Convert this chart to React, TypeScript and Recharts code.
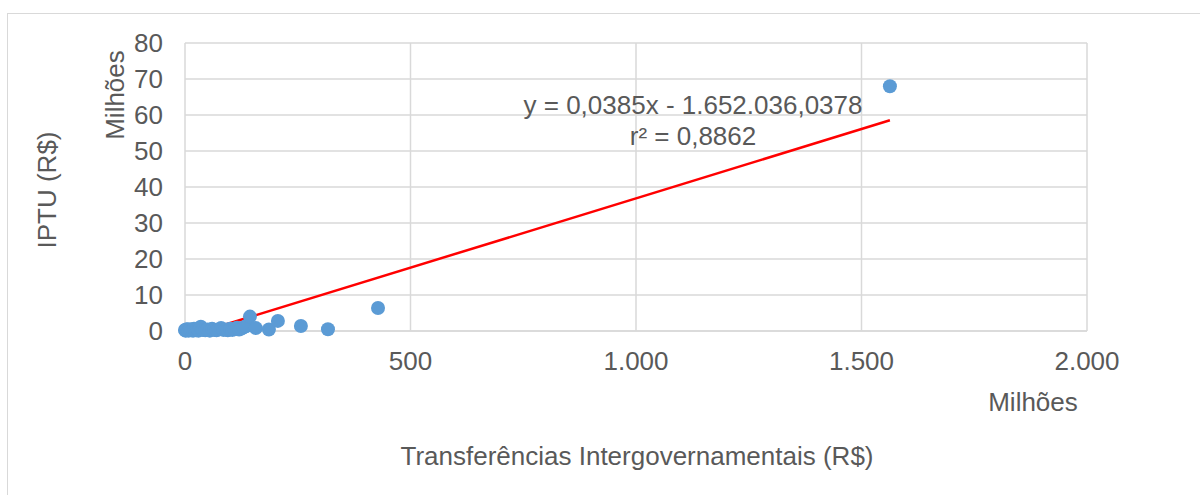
import React from 'react';
import { ScatterChart, Scatter, XAxis, YAxis, CartesianGrid, ReferenceLine } from 'recharts';

// transfers (millions of R$) and IPTU (millions of R$)
const transfers = [0, 1, 2, 4, 5, 8, 10, 12, 15, 18, 20, 22, 25, 28, 30, 33, 35, 38, 40, 45, 50, 55, 60, 65, 70, 75, 80, 85, 90, 95, 100, 105, 110, 115, 120, 125, 130, 135, 144, 157, 186, 206, 257, 317, 428, 1563];
const iptu = [0.3, 0.1, 0.2, 0.5, 0.4, 0.1, 0.3, 0.5, 0.2, 0.1, 0.6, 0.3, 0.2, 0.4, 0.1, 0.8, 1.2, 0.5, 0.3, 0.2, 0.4, 0.1, 0.6, 0.3, 0.2, 0.5, 0.8, 0.3, 0.4, 0.2, 0.6, 0.3, 0.5, 0.9, 0.4, 0.7, 1.0, 1.3, 4.0, 0.8, 0.4, 2.8, 1.4, 0.5, 6.4, 68];

const xTicks = [0, 500, 1000, 1500, 2000];
const yTicks = [0, 10, 20, 30, 40, 50, 60, 70, 80];

// trendline coefficients (in millions)
const slope = 0.0385;
const intercept = -1.652036;

const points = transfers.map((x, i) => ({ x, y: iptu[i] }));
const trendStart = -intercept / slope;
const trendEnd = 1563;

const txt = '#595959';
const font = '"Liberation Sans", Arial, sans-serif';

const fmt = (v: number) => v.toLocaleString('pt-BR');

const Dot = (p: any) => <circle cx={p.cx} cy={p.cy} r={7} fill="#5b9bd5" />;

const App = () => {
    return (
        <div style={{ position: 'absolute', left: 0, top: 0, width: 1200, height: 495, fontFamily: font, background: '#fff', overflow: 'hidden' }}>
            <div style={{ position: 'absolute', left: 7, top: 13, width: 1200, height: 500, borderLeft: '1px solid #d9d9d9', borderTop: '1px solid #d9d9d9' }} />
            <div style={{ position: 'absolute', left: 0, top: 0 }}>
                <ScatterChart width={1200} height={495} margin={{ top: 43, right: 113, left: 125, bottom: 134 }}>
                    <CartesianGrid stroke="#d9d9d9" strokeWidth={1.5} />
                    <XAxis
                        type="number"
                        dataKey="x"
                        domain={[0, 2000]}
                        ticks={xTicks}
                        tickFormatter={fmt}
                        height={30}
                        tickSize={0}
                        tickMargin={21}
                        axisLine={{ stroke: '#d9d9d9', strokeWidth: 1.5 }}
                        tickLine={false}
                        tick={{ fill: txt, fontSize: 26, fontFamily: font }}
                    />
                    <YAxis
                        type="number"
                        dataKey="y"
                        domain={[0, 80]}
                        ticks={yTicks}
                        width={60}
                        tickSize={0}
                        tickMargin={22}
                        axisLine={false}
                        tickLine={false}
                        tick={{ fill: txt, fontSize: 26, fontFamily: font }}
                    />
                    <Scatter data={points} shape={Dot} isAnimationActive={false} />
                    <ReferenceLine
                        segment={[{ x: trendStart, y: 0 }, { x: trendEnd, y: slope * trendEnd + intercept }]}
                        stroke="#ff0000"
                        strokeWidth={2.5}
                    />
                </ScatterChart>
            </div>
            <div style={{ position: 'absolute', left: 115, top: 95, transform: 'translate(-50%, -50%) rotate(-90deg)', color: txt, fontSize: 26, whiteSpace: 'nowrap' }}>Milhões</div>
            <div style={{ position: 'absolute', left: 47, top: 190, transform: 'translate(-50%, -50%) rotate(-90deg)', color: txt, fontSize: 26, whiteSpace: 'nowrap' }}>IPTU (R$)</div>
            <div style={{ position: 'absolute', left: 1033, top: 402, transform: 'translate(-50%, -50%)', color: txt, fontSize: 26, whiteSpace: 'nowrap' }}>Milhões</div>
            <div style={{ position: 'absolute', left: 637, top: 456, transform: 'translate(-50%, -50%)', color: txt, fontSize: 26, whiteSpace: 'nowrap' }}>Transferências Intergovernamentais (R$)</div>
            <div style={{ position: 'absolute', left: 693, top: 121, transform: 'translate(-50%, -50%)', color: txt, fontSize: 26, lineHeight: '31px', textAlign: 'center', whiteSpace: 'nowrap' }}>
                y = 0,0385x - 1.652.036,0378<br />r² = 0,8862
            </div>
        </div>
    );
};

export default App;
